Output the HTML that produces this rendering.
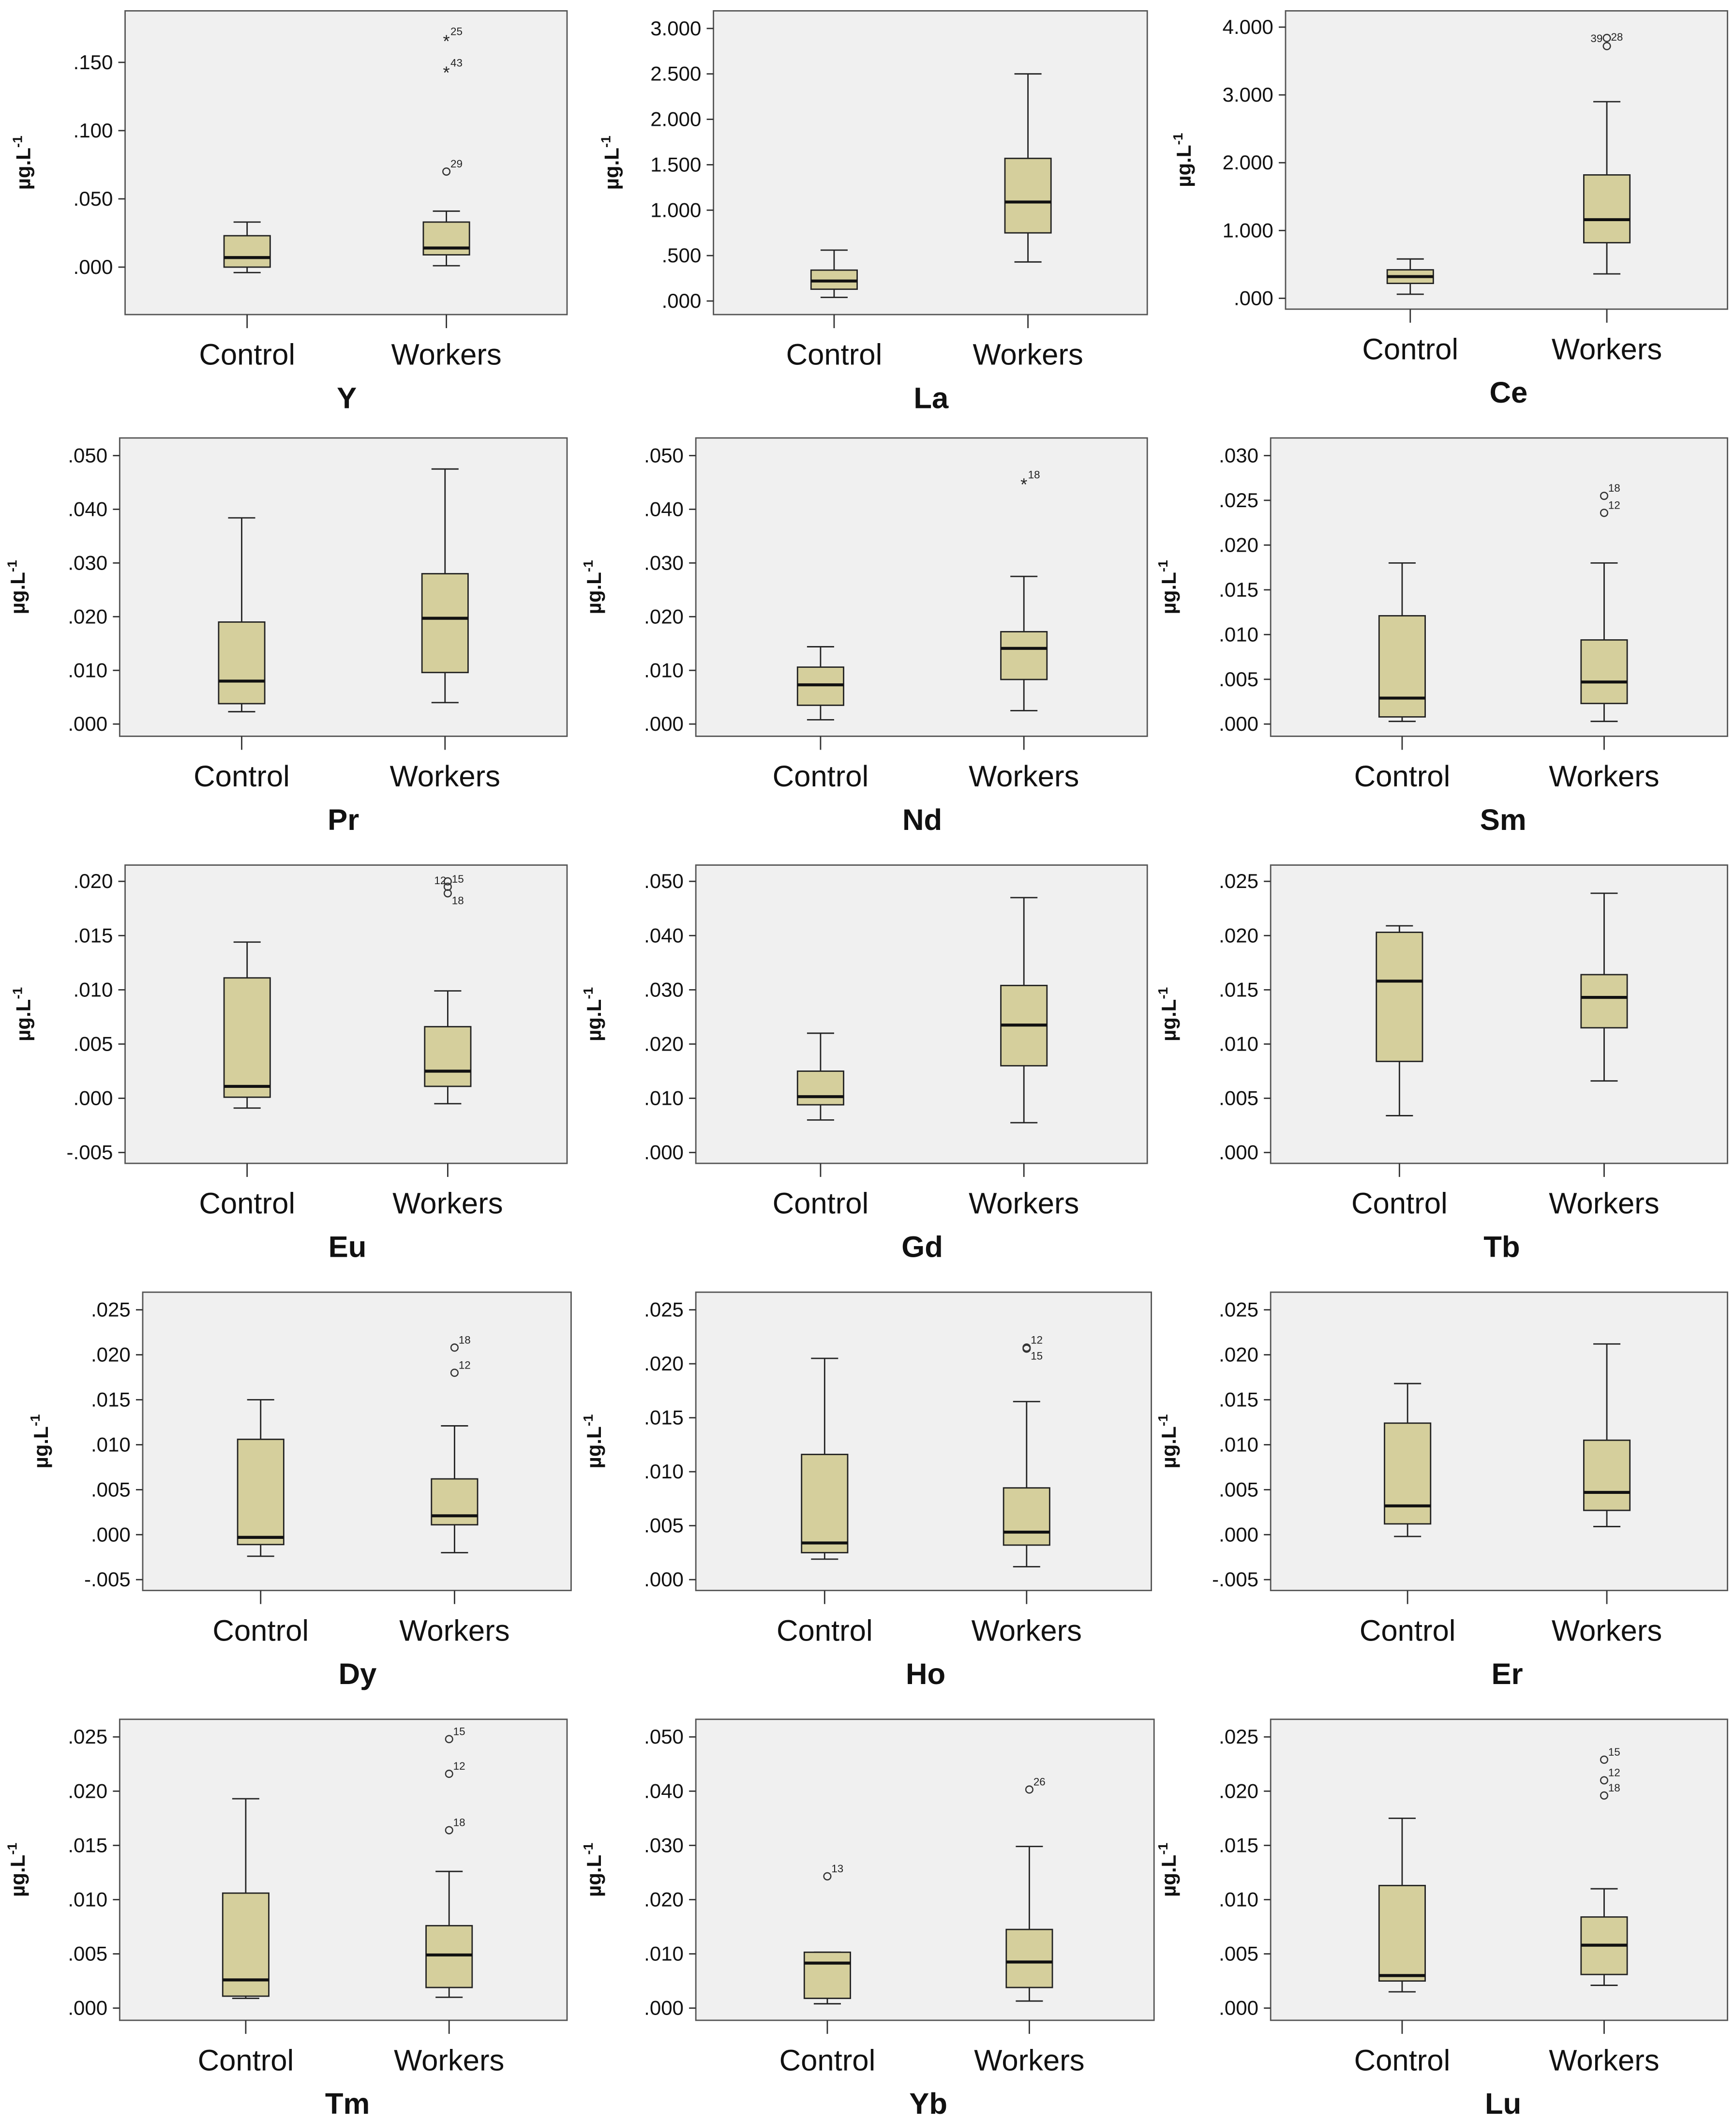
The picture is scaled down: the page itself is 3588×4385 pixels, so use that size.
<!DOCTYPE html>
<html><head><meta charset="utf-8"><style>
html,body{margin:0;padding:0;background:#fff;}
svg{display:block;font-family:"Liberation Sans",sans-serif;}
</style></head><body>
<svg id="chart" width="3588" height="4385" viewBox="0 0 1280 1565" xmlns="http://www.w3.org/2000/svg"></svg>
<script>
const titles=["Y","La","Ce","Pr","Nd","Sm","Eu","Gd","Tb","Dy","Ho","Er","Tm","Yb","Lu"];
const categories=["Control","Workers"];
const tickValues=[
[0,0.05,0.1,0.15],[0,0.5,1,1.5,2,2.5,3],[0,1,2,3,4],
[0,0.01,0.02,0.03,0.04,0.05],[0,0.01,0.02,0.03,0.04,0.05],[0,0.005,0.01,0.015,0.02,0.025,0.03],
[-0.005,0,0.005,0.01,0.015,0.02],[0,0.01,0.02,0.03,0.04,0.05],[0,0.005,0.01,0.015,0.02,0.025],
[-0.005,0,0.005,0.01,0.015,0.02,0.025],[0,0.005,0.01,0.015,0.02,0.025],[-0.005,0,0.005,0.01,0.015,0.02,0.025],
[0,0.005,0.01,0.015,0.02,0.025],[0,0.01,0.02,0.03,0.04,0.05],[0,0.005,0.01,0.015,0.02,0.025]];
const tickLabels=[
[".000",".050",".100",".150"],[".000",".500","1.000","1.500","2.000","2.500","3.000"],[".000","1.000","2.000","3.000","4.000"],
[".000",".010",".020",".030",".040",".050"],[".000",".010",".020",".030",".040",".050"],[".000",".005",".010",".015",".020",".025",".030"],
["-.005",".000",".005",".010",".015",".020"],[".000",".010",".020",".030",".040",".050"],[".000",".005",".010",".015",".020",".025"],
["-.005",".000",".005",".010",".015",".020",".025"],[".000",".005",".010",".015",".020",".025"],["-.005",".000",".005",".010",".015",".020",".025"],
[".000",".005",".010",".015",".020",".025"],[".000",".010",".020",".030",".040",".050"],[".000",".005",".010",".015",".020",".025"]];
// [low whisker, q1, median, q3, high whisker]
const controlStats=[
[-0.004,0,0.007,0.023,0.033],[0.04,0.13,0.22,0.34,0.56],[0.06,0.22,0.32,0.42,0.58],
[0.0023,0.0038,0.008,0.019,0.0384],[0.0008,0.0035,0.0073,0.0106,0.0144],[0.0003,0.0008,0.0029,0.0121,0.018],
[-0.0009,0.0001,0.0011,0.0111,0.0144],[0.006,0.0088,0.0103,0.015,0.022],[0.0034,0.0084,0.0158,0.0203,0.0209],
[-0.0024,-0.0011,-0.0003,0.0106,0.015],[0.0019,0.0025,0.0034,0.0116,0.0205],[-0.0002,0.0012,0.0032,0.0124,0.0168],
[0.0009,0.0011,0.0026,0.0106,0.0193],[0.0008,0.0018,0.0083,0.0103,0.0103],[0.0015,0.0025,0.003,0.0113,0.0175]];
const workerStats=[
[0.001,0.009,0.014,0.033,0.041],[0.43,0.75,1.09,1.57,2.5],[0.36,0.82,1.16,1.82,2.9],
[0.004,0.0096,0.0197,0.028,0.0475],[0.0025,0.0083,0.0141,0.0172,0.0275],[0.0003,0.0023,0.0047,0.0094,0.018],
[-0.0005,0.0011,0.0025,0.0066,0.0099],[0.0055,0.016,0.0235,0.0308,0.047],[0.0066,0.0115,0.0143,0.0164,0.0239],
[-0.002,0.0011,0.0021,0.0062,0.0121],[0.0012,0.0032,0.0044,0.0085,0.0165],[0.0009,0.0027,0.0047,0.0105,0.0212],
[0.001,0.0019,0.0049,0.0076,0.0126],[0.0013,0.0038,0.0085,0.0145,0.0298],[0.0021,0.0031,0.0058,0.0084,0.011]];
// outliers: [group index, value, label, kind, optional label dx, dy]
const outliers=[
[[1,0.070,"29","o"],[1,0.144,"43","*"],[1,0.167,"25","*"]],[],[[1,3.72,"39","o",-12,-3],[1,3.84,"28","o",3,2]],
[],[[1,0.045,"18","*"]],[[1,0.0255,"18","o"],[1,0.0236,"12","o"]],
[[1,0.020,"12","o",-10,2],[1,0.0195,"15","o",3,-3],[1,0.0189,"18","o",3,8]],[],[],
[[1,0.0208,"18","o"],[1,0.018,"12","o"]],[[1,0.0215,"12","o",3,-3],[1,0.0214,"15","o",3,8]],[],
[[1,0.0248,"15","o"],[1,0.0216,"12","o"],[1,0.0164,"18","o"]],[[0,0.0243,"13","o"],[1,0.0403,"26","o"]],
[[1,0.0229,"15","o"],[1,0.021,"12","o"],[1,0.0196,"18","o"]]];
// layout: frame x0,x1,y0,y1 ; pixel of first & last tick ; group x centers
const layout=[
[92,418,8,232,197,46,182,329],[526,846,8,232,222,21,615,758],[948,1274,8,228,220,20,1040,1185],
[88,418,323,543,534,336,178,328],[513,846,323,543,534,336,605,755],[937,1274,323,543,534,336,1034,1183],
[92,418,638,858,850,650,182,330],[513,846,638,858,850,650,605,755],[937,1274,638,858,850,650,1032,1183],
[105,421,953,1173,1165,966,192,335],[513,849,953,1173,1165,966,608,757],[937,1274,953,1173,1165,966,1038,1185],
[88,418,1268,1490,1481,1281,181,331],[513,851,1268,1490,1481,1281,610,759],[937,1274,1268,1490,1481,1281,1034,1183]];
const svg=document.getElementById('chart');
const NS='http://www.w3.org/2000/svg';
function mk(tag,attrs,parent,text){const e=document.createElementNS(NS,tag);for(const k in attrs)e.setAttribute(k,attrs[k]);if(text!==undefined)e.textContent=text;(parent||svg).appendChild(e);return e;}
titles.forEach((t,i)=>{
  const [x0,x1,y0,y1,pB,pT,cx0,cx1]=layout[i];
  const tv=tickValues[i];const vmin=tv[0],vmax=tv[tv.length-1];
  const y=v=>pB+(v-vmin)/(vmax-vmin)*(pT-pB);
  const g=mk('g',{});
  
  
  const fr=mk('rect',{x:x0,y:y0,width:x1-x0,height:y1-y0,fill:'#f0f0f0',stroke:'#555','stroke-width':1},g);
  
  
  tv.forEach((v,k)=>{
    const yy=y(v);
    mk('line',{x1:x0-5,x2:x0,y1:yy,y2:yy,stroke:'#333'},g);
    const tl=mk('text',{x:x0-9,y:yy+5,'font-size':15,'text-anchor':'end',fill:'#111'},g,tickLabels[i][k]);
    
    
  });
  const yl=mk('text',{transform:`translate(${x0-70},${(y0+y1)/2}) rotate(-90)`,'font-size':15,'font-weight':'bold','text-anchor':'middle',fill:'#111'},g);
  
  
  yl.textContent='µg.L';
  mk('tspan',{'font-size':10,dy:-6},yl,'-1');
  const cxs=[cx0,cx1];const stats=[controlStats[i],workerStats[i]];
  cxs.forEach((cx,gi)=>{
    mk('line',{x1:cx,x2:cx,y1:y1,y2:y1+10,stroke:'#333'},g);
    const cl=mk('text',{x:cx,y:y1+37,'font-size':22,'text-anchor':'middle',fill:'#111'},g,categories[gi]);
    
    
    const s=stats[gi];const hw=17,cw=10;
    const bg=mk('g',{},g);
    
    
    mk('line',{x1:cx,x2:cx,y1:y(s[0]),y2:y(s[1]),stroke:'#222'},bg);
    mk('line',{x1:cx,x2:cx,y1:y(s[3]),y2:y(s[4]),stroke:'#222'},bg);
    mk('line',{x1:cx-cw,x2:cx+cw,y1:y(s[0]),y2:y(s[0]),stroke:'#222'},bg);
    mk('line',{x1:cx-cw,x2:cx+cw,y1:y(s[4]),y2:y(s[4]),stroke:'#222'},bg);
    mk('rect',{x:cx-hw,y:y(s[3]),width:2*hw,height:Math.max(1,y(s[1])-y(s[3])),fill:'#d5cf9c',stroke:'#222'},bg);
    mk('line',{x1:cx-hw,x2:cx+hw,y1:y(s[2]),y2:y(s[2]),stroke:'#111','stroke-width':2.2},bg);
  });
  outliers[i].forEach(o=>{
    const cx=cxs[o[0]],yy=y(o[1]);
    let m;
    if(o[3]==='*'){m=mk('text',{x:cx,y:yy+6,'font-size':13,'text-anchor':'middle',fill:'#222'},g,'*');}
    else{m=mk('circle',{cx:cx,cy:yy,r:2.6,fill:'none',stroke:'#333','stroke-width':0.9},g);}
    
    
    const dx=o.length>4?o[4]:3,dy=o.length>5?o[5]:-3;
    const lb=mk('text',{x:cx+dx,y:yy+dy,'font-size':8,fill:'#222'},g,o[2]);
    
    
  });
  const tt=mk('text',{x:(cx0+cx1)/2,y:y1+69,'font-size':22,'font-weight':'bold','text-anchor':'middle',fill:'#111'},g,t);
  
  
});
</script>
</body></html>
